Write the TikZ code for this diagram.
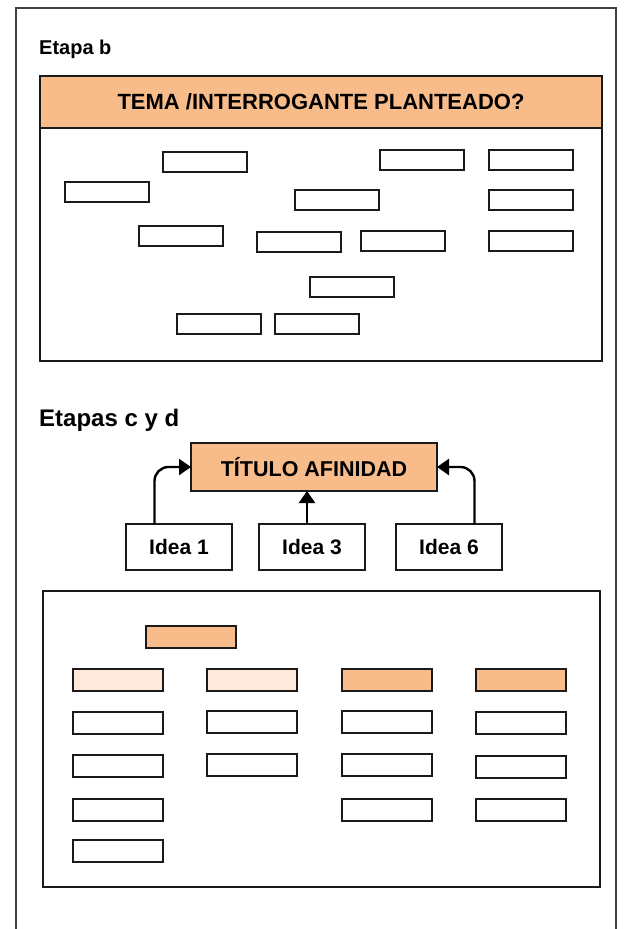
\documentclass[tikz,border=0pt]{standalone}
\usepackage{fontspec}
\setmainfont{Liberation Sans}
\usetikzlibrary{arrows.meta}
\definecolor{orng}{HTML}{F8BC8A}
\definecolor{lite}{HTML}{FDEADC}
\definecolor{frm}{HTML}{404040}
\definecolor{edge}{HTML}{1A1A1A}
\begin{document}
\begin{tikzpicture}[x=1pt,y=-1pt,
  panel/.style={draw=edge, line width=1.4pt, inner sep=0pt, outer sep=0pt, anchor=north west},
  sbox/.style={draw=edge, line width=1.4pt, inner sep=0pt, outer sep=0pt, anchor=north west, minimum width=84pt, minimum height=20pt},
  cbox/.style={sbox, minimum width=90pt, minimum height=22pt},
  ibox/.style={draw=edge, line width=1.3pt, inner sep=0pt, outer sep=0pt, anchor=north west, minimum width=106pt, minimum height=46pt, font=\bfseries\fontsize{21}{24}\selectfont},
  arr/.style={line width=2.4pt, -{Triangle[length=12pt,width=16pt]}, rounded corners=14pt},
  lbl/.style={anchor=base west, inner sep=0pt, font=\bfseries\fontsize{#1}{#1}\selectfont}
]
\useasboundingbox (0,0) rectangle (625,929);
\draw[frm, line width=1.5pt] (16,929) -- (16,8) -- (616,8) -- (616,929);

% Etapa b
\node[lbl=20] (etb) at (39,54) {Etapa b};
\node[panel, minimum width=562pt, minimum height=285pt] (panelb) at (40,76) {};
\node[panel, fill=orng, minimum width=562pt, minimum height=52pt, font=\bfseries\fontsize{22}{24}\selectfont] (tema) at (40,76) {TEMA /INTERROGANTE PLANTEADO?};

\node[sbox] (b1) at (163,152) {};
\node[sbox] (b2) at (380,150) {};
\node[sbox] (b3) at (489,150) {};
\node[sbox] (b4) at (65,182) {};
\node[sbox] (b5) at (295,190) {};
\node[sbox] (b6) at (489,190) {};
\node[sbox] (b7) at (139,226) {};
\node[sbox] (b8) at (257,232) {};
\node[sbox] (b9) at (361,231) {};
\node[sbox] (b10) at (489,231) {};
\node[sbox] (b11) at (310,277) {};
\node[sbox] (b12) at (177,314) {};
\node[sbox] (b13) at (275,314) {};

% Etapas c y d
\node[lbl=24] (etcd) at (39,426) {Etapas c y d};
\node[panel, line width=1.3pt, fill=orng, minimum width=246pt, minimum height=48pt, font=\bfseries\fontsize{21.5}{24}\selectfont] (title) at (191,443) {TÍTULO AFINIDAD};
\node[ibox] (i1) at (126,524) {Idea 1};
\node[ibox] (i3) at (259,524) {Idea 3};
\node[ibox] (i6) at (396,524) {Idea 6};
\coordinate (al) at (154.5,0);
\coordinate (am) at (307,0);
\coordinate (ar) at (474.5,0);
\draw[arr] (i1.north -| al) |- (title.west);
\draw[arr] (i3.north -| am) -- (title.south -| am);
\draw[arr] (i6.north -| ar) |- (title.east);

\node[panel, minimum width=557pt, minimum height=296pt] (panelc) at (43,591) {};
\node[cbox, fill=orng] (h0) at (146,626) {};
\node[cbox, fill=lite] (c11) at (73,669) {};
\node[cbox, fill=lite] (c21) at (207,669) {};
\node[cbox, fill=orng] (c31) at (342,669) {};
\node[cbox, fill=orng] (c41) at (476,669) {};
\node[cbox] (c12) at (73,712) {};
\node[cbox] (c22) at (207,711) {};
\node[cbox] (c32) at (342,711) {};
\node[cbox] (c42) at (476,712) {};
\node[cbox] (c13) at (73,755) {};
\node[cbox] (c23) at (207,754) {};
\node[cbox] (c33) at (342,754) {};
\node[cbox] (c43) at (476,756) {};
\node[cbox] (c14) at (73,799) {};
\node[cbox] (c34) at (342,799) {};
\node[cbox] (c44) at (476,799) {};
\node[cbox] (c15) at (73,840) {};
\end{tikzpicture}
\end{document}
